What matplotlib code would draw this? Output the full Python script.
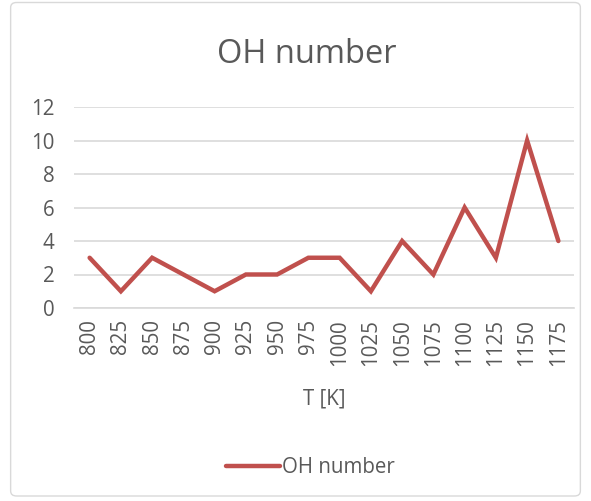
import matplotlib.pyplot as plt
from matplotlib.patches import FancyBboxPatch

temps = ['800', '825', '850', '875', '900', '925', '950', '975', '1000',
         '1025', '1050', '1075', '1100', '1125', '1150', '1175']
oh_number = [3, 1, 3, 2, 1, 2, 2, 3, 3, 1, 4, 2, 6, 3, 10, 4]

plt.rcParams['font.family'] = ['Open Sans', 'DejaVu Sans']
gray = '#595959'

fig = plt.figure(figsize=(5.91, 5.01), dpi=100)
fig.patches.append(FancyBboxPatch((0.018, 0.01), 0.964, 0.985,
                                  boxstyle='round,pad=0,rounding_size=0.01',
                                  transform=fig.transFigure, fill=False,
                                  edgecolor='#d9d9d9', linewidth=1))
ax = fig.add_axes([74 / 591, 1 - 308 / 501, 500 / 591, 201 / 501])

x = range(len(temps))
ax.plot(x, oh_number, color='#C0504D', linewidth=3.2, label='OH number',
        solid_joinstyle='miter', solid_capstyle='round')

ax.set_xlim(-0.5, len(temps) - 0.5)
ax.set_ylim(0, 12)
ax.set_yticks(range(0, 13, 2))
ax.set_xticks(list(x))
ax.set_xticklabels(temps, rotation=90)
ax.grid(axis='y', color='#d9d9d9', linewidth=1.2)
ax.set_axisbelow(True)
for s in ['top', 'right', 'left']:
    ax.spines[s].set_visible(False)
ax.spines['bottom'].set_color('#d9d9d9')
ax.spines['bottom'].set_linewidth(1.2)
ax.tick_params(length=0, labelsize=14.8, colors=gray, pad=8)
ax.tick_params(axis='y', pad=14)

ax.set_xlabel('T [K]', fontsize=14.8, color=gray, labelpad=16)
fig.text(0.519, 0.892, 'OH number', ha='center', va='center', fontsize=23.5, color=gray)
fig.legend(loc='center', bbox_to_anchor=(0.525, 0.066), frameon=False,
           fontsize=14.8, labelcolor=gray, handlelength=2.6, handletextpad=0.1)

fig.savefig('out.png', dpi=100)
